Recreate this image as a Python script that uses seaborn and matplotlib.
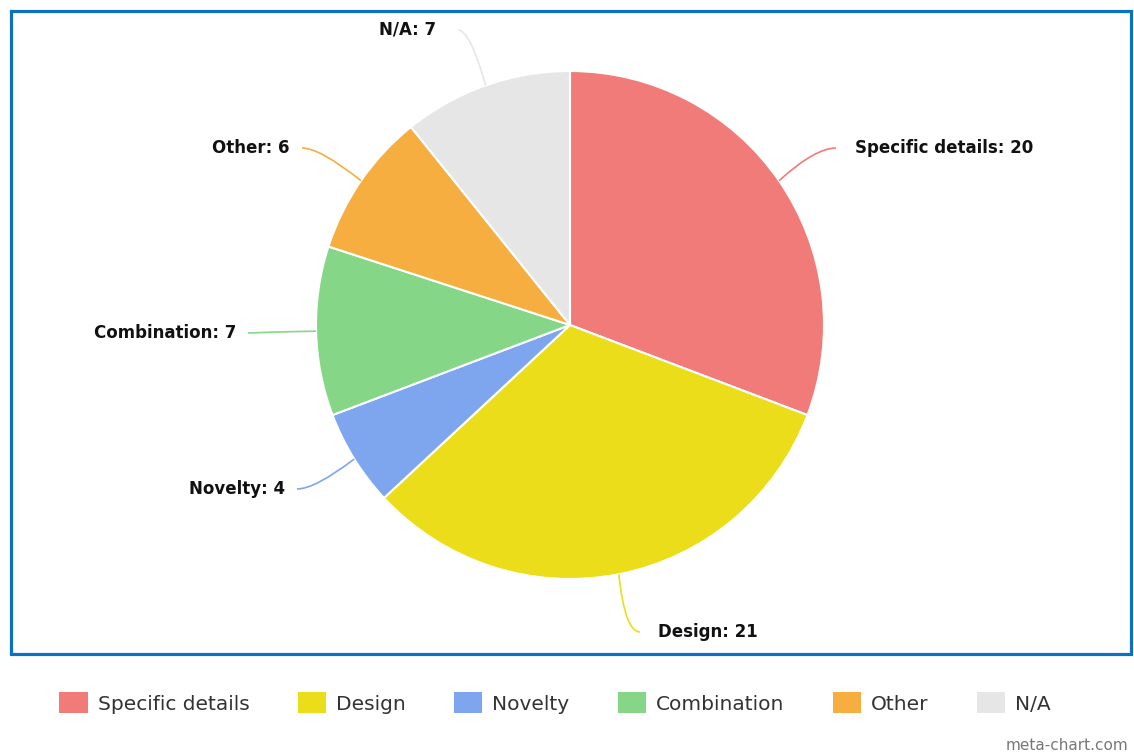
import matplotlib
matplotlib.use("Agg")
import matplotlib.pyplot as plt
import seaborn as sns
import numpy as np
from matplotlib.patches import Rectangle, Patch
from matplotlib.path import Path
from matplotlib.patches import PathPatch

# Data
categories = ["Specific details", "Design", "Novelty", "Combination", "Other", "N/A"]
counts = [20, 21, 4, 7, 6, 7]
colors = ["#F07B78", "#ECDD1B", "#7EA6EF", "#85D787", "#F6AE40", "#E6E6E6"]

sns.set_theme(style="white")
palette = sns.color_palette(colors)

W, H = 1134, 755
fig = plt.figure(figsize=(W / 100, H / 100), dpi=100)
ax = fig.add_axes([0, 0, 1, 1])
ax.set_xlim(0, W)
ax.set_ylim(0, H)
ax.set_aspect("equal")
ax.axis("off")

cx, cy, r = 570, H - 325, 254
wedges, _ = ax.pie(counts, colors=palette, startangle=90, counterclock=False,
                   center=(cx, cy), radius=r,
                   wedgeprops=dict(edgecolor="white", linewidth=1.5))
ax.set_xlim(0, W)
ax.set_ylim(0, H)

# Label layout: end of connector (dx, dy from pie centre, in px), control point,
# alignment and text gap
label_layout = {
    "Specific details": dict(end=(266, 177), ctrl=(245, 177), ha="left", gap=19),
    "Design": dict(end=(70, -307), ctrl=(55, -307), ha="left", gap=18),
    "Novelty": dict(end=(-273, -164), ctrl=(-255, -164), ha="right", gap=12),
    "Combination": dict(end=(-322, -8), ctrl=(-300, -7), ha="right", gap=12),
    "Other": dict(end=(-268, 177), ctrl=(-250, 177), ha="right", gap=12),
    "N/A": dict(end=(-112, 295), ctrl=(-100, 295), ha="right", gap=22),
}

for w, cat, val, col in zip(wedges, categories, counts, palette):
    mid = np.deg2rad((w.theta1 + w.theta2) / 2)
    p0 = (cx + r * np.cos(mid), cy + r * np.sin(mid))
    lay = label_layout[cat]
    p2 = (cx + lay["end"][0], cy + lay["end"][1])
    p1 = (cx + lay["ctrl"][0], cy + lay["ctrl"][1])
    path = Path([p0, p1, p2], [Path.MOVETO, Path.CURVE3, Path.CURVE3])
    ax.add_patch(PathPatch(path, facecolor="none", edgecolor=col, lw=1.2))
    off = lay["gap"] if lay["ha"] == "left" else -lay["gap"]
    ax.text(p2[0] + off, p2[1], f"{cat}: {val}", ha=lay["ha"], va="center",
            fontsize=12, fontweight="bold", family="DejaVu Sans", color="#111111")

# Frame around the plot area
fig.patches.append(Rectangle((10.5 / W, 1 - 654 / H), 1120 / W, 643 / H,
                             transform=fig.transFigure, fill=False,
                             edgecolor="#0C71C3", linewidth=2.3))

handles = [Patch(facecolor=c, edgecolor="none") for c in palette]
leg = fig.legend(handles, categories, ncol=6, loc="center",
                 bbox_to_anchor=(555 / W, 1 - 703 / H), frameon=False,
                 fontsize=14.5, handlelength=1.4, handleheight=1.2,
                 handletextpad=0.5, columnspacing=2.4)
for t in leg.get_texts():
    t.set_color("#333333")

fig.text(1128 / W, 1 - 745 / H, "meta-chart.com", ha="right", va="center",
         fontsize=11, color="#777777")

fig.savefig("out.png", dpi=100)
